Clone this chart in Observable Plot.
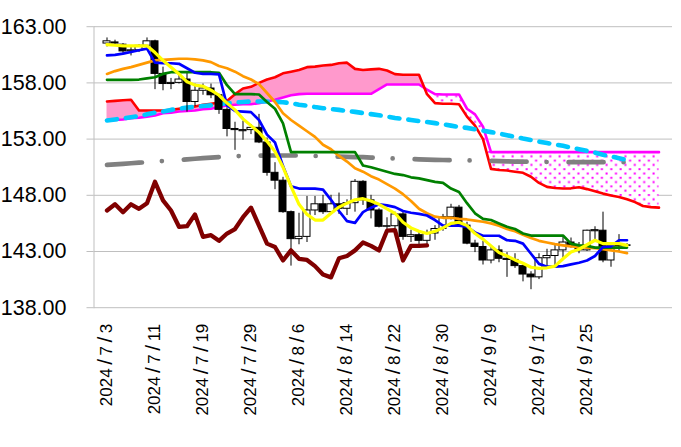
<!DOCTYPE html>
<html><head><meta charset="utf-8">
<script src="https://cdn.jsdelivr.net/npm/d3@7"></script>
<script src="https://cdn.jsdelivr.net/npm/@observablehq/plot@0.6"></script>
<style>body{margin:0;background:#fff;}</style>
</head><body><div id="chart"></div>
<script>
const dates = ["2024/7/3","2024/7/4","2024/7/5","2024/7/8","2024/7/9","2024/7/10","2024/7/11","2024/7/12","2024/7/15","2024/7/16","2024/7/17","2024/7/18","2024/7/19","2024/7/22","2024/7/23","2024/7/24","2024/7/25","2024/7/26","2024/7/29","2024/7/30","2024/7/31","2024/8/1","2024/8/2","2024/8/5","2024/8/6","2024/8/7","2024/8/8","2024/8/9","2024/8/12","2024/8/13","2024/8/14","2024/8/15","2024/8/16","2024/8/19","2024/8/20","2024/8/21","2024/8/22","2024/8/23","2024/8/26","2024/8/27","2024/8/28","2024/8/29","2024/8/30","2024/9/2","2024/9/3","2024/9/4","2024/9/5","2024/9/6","2024/9/9","2024/9/10","2024/9/11","2024/9/12","2024/9/13","2024/9/16","2024/9/17","2024/9/18","2024/9/19","2024/9/20","2024/9/23","2024/9/24","2024/9/25","2024/9/26","2024/9/27","2024/9/30","2024/10/1","2024/10/2"];
const periods = 70; // 66 trading days + 4 forward periods of the cloud
const tickLabels = ["2024/7/3","2024/7/11","2024/7/19","2024/7/29","2024/8/6","2024/8/14","2024/8/22","2024/8/30","2024/9/9","2024/9/17","2024/9/25"];
const yTicks = [138,143,148,153,158,163];

const open = [161.5,161.6,161.4,160.8,160.9,161.3,161.7,158.8,157.9,158.0,
158.3,156.3,157.3,157.5,156.9,155.6,153.9,153.7,153.8,154.0,
152.7,150.0,149.3,146.5,144.1,144.3,146.65,147.2,146.5,147.2,
146.8,147.3,149.2,147.55,146.65,145.2,145.25,146.3,144.3,144.45,
143.95,144.6,145.0,146.05,146.9,145.3,143.7,143.4,142.2,143.1,
142.35,142.25,141.7,140.95,140.7,142.4,142.6,143.1,143.8,143.5,
143.1,144.8,144.85,142.2,143.45,143.5];
const high = [162.0,161.8,161.5,161.2,161.4,162.0,161.8,159.4,158.4,158.9,
158.9,157.9,157.9,157.9,157.0,155.8,154.5,154.6,154.3,155.2,
153.1,150.9,149.6,146.6,146.4,147.9,147.9,148.0,148.0,148.2,
147.6,149.4,149.3,148.0,146.8,146.0,146.5,146.5,144.9,144.8,
144.9,145.3,146.3,147.2,147.1,145.6,144.0,143.9,143.5,143.5,
142.9,142.8,141.8,141.2,142.8,143.2,143.7,144.4,144.2,143.8,
144.9,145.2,146.5,143.8,144.5,143.7];
const low = [161.2,161.3,160.6,160.4,160.7,161.1,157.4,157.3,157.4,157.9,
155.4,155.9,156.9,156.6,155.2,153.2,152.0,152.9,153.4,152.6,
149.7,148.5,146.4,141.7,143.6,143.8,146.2,146.3,146.4,146.3,
146.2,146.5,147.1,145.9,145.1,144.9,145.0,144.0,143.8,143.6,
143.6,144.0,144.8,145.8,145.2,143.6,142.9,141.8,141.9,142.0,
140.7,141.5,140.3,139.6,140.5,141.5,141.7,142.4,143.3,142.8,
143.0,143.9,142.0,141.6,142.9,143.4];
const close = [161.7,161.5,160.8,160.9,161.3,161.7,158.8,157.9,158.0,158.3,
156.3,157.3,157.5,156.9,155.6,153.9,153.8,153.8,154.0,152.7,
150.0,149.3,146.5,144.1,144.3,146.65,147.2,146.5,147.2,146.8,
147.3,149.2,147.55,146.65,145.2,145.25,146.3,144.3,144.45,143.95,
144.6,145.0,146.05,146.9,145.3,143.7,143.4,142.2,143.1,142.35,
142.25,141.7,140.95,140.7,142.4,142.6,143.1,143.8,143.5,143.1,
144.85,144.9,142.2,143.5,143.5,143.55];

// conversion line (blue)
const tenkan = [160.45,160.5,160.6,160.75,160.9,161.05,159.8,159.75,159.75,159.7,
159.3,158.9,158.8,158.8,158.75,156.0,155.5,155.45,155.4,154.7,
153.4,152.7,150.6,148.8,148.6,148.6,148.6,148.5,147.6,146.6,
145.7,145.55,146.5,146.9,147.2,147.1,146.95,146.6,146.45,146.35,
146.2,145.8,145.3,145.3,145.3,145.2,144.7,144.4,144.4,144.4,
144.0,143.95,143.7,142.8,141.9,141.65,141.65,141.7,141.85,142.0,
142.2,142.6,143.4,143.45,144.0,144.0];
// base line (green)
const kijun = [158.27,158.27,158.27,158.27,158.3,158.4,158.5,158.8,158.95,158.95,
158.95,158.95,158.95,158.95,158.9,157.8,157.0,157.0,157.0,156.97,
156.3,155.7,154.4,151.84,151.84,151.84,151.84,151.84,151.84,151.84,
151.84,151.84,150.65,150.5,150.3,150.1,149.9,149.8,149.6,149.5,
149.35,149.2,149.1,148.6,148.3,147.3,146.4,145.9,145.8,145.5,
145.2,145.0,144.6,144.42,144.42,144.42,144.42,144.42,143.7,143.55,
143.5,143.35,143.35,143.35,143.35,143.35];
// short moving average (yellow)
const maShort = [161.4,161.35,161.3,161.3,161.3,161.3,160.7,160.0,159.4,158.8,
158.1,157.8,157.7,157.35,156.9,156.2,155.6,154.8,154.2,153.6,
152.8,151.9,150.5,148.8,147.2,146.3,145.8,145.8,146.4,146.95,
147.3,147.6,147.7,147.5,147.2,146.8,146.4,145.6,145.1,144.8,
144.6,144.8,145.1,145.5,145.6,145.3,144.6,144.1,143.5,142.9,
142.6,142.25,141.95,141.6,141.5,141.55,141.7,142.35,142.95,143.2,
143.6,144.0,143.7,143.7,143.7,143.55];
// medium moving average (orange)
const maMid = [158.8,159.05,159.25,159.4,159.6,159.8,160.0,160.05,160.1,160.15,
160.15,160.1,160.0,159.85,159.5,159.3,159.0,158.6,158.3,157.9,
157.1,156.3,155.3,154.7,154.2,153.7,153.2,152.5,152.1,151.5,
151.0,150.4,150.1,149.7,149.4,149.0,148.6,148.1,147.5,146.8,
146.4,146.1,146.0,146.0,145.9,145.85,145.75,145.65,145.5,145.3,
145.0,144.8,144.5,144.2,143.95,143.8,143.65,143.55,143.45,143.4,
143.35,143.3,143.2,143.1,143.0,142.85];
// long moving average (cyan dashed)
const maLong = [154.65,154.75,154.85,154.95,155.05,155.2,155.35,155.45,155.6,155.7,
155.8,155.87,155.95,156.0,156.1,156.2,156.25,156.3,156.35,156.35,
156.35,156.32,156.28,156.2,156.05,155.97,155.85,155.75,155.68,155.6,
155.5,155.42,155.32,155.22,155.12,155.0,154.88,154.8,154.7,154.6,
154.52,154.42,154.32,154.2,154.08,154.0,153.88,153.75,153.62,153.5,
153.35,153.2,153.05,152.92,152.78,152.65,152.52,152.4,152.25,152.1,
151.95,151.8,151.6,151.45,151.3,151.15];
// longest moving average (grey dash-dot)
const maLongest = [150.7,150.75,150.8,150.85,150.9,150.95,151.0,151.05,151.1,151.15,
151.2,151.25,151.3,151.35,151.4,151.45,151.48,151.5,151.52,151.53,
151.54,151.54,151.54,151.54,151.54,151.54,151.5,151.48,151.46,151.44,
151.42,151.4,151.39,151.36,151.33,151.3,151.27,151.24,151.22,151.2,
151.17,151.15,151.14,151.13,151.12,151.11,151.1,151.08,151.06,151.04,
151.02,151.0,150.99,150.98,150.97,150.96,150.95,150.95,150.95,150.95,
150.95,150.95,150.95,150.95,150.95,150.95];
// leading span 1 (red) and leading span 2 (magenta), 70 periods
const spanA = [156.35,156.4,156.45,156.5,155.55,155.55,155.55,155.55,155.6,155.7,
155.8,155.9,156.05,156.15,156.25,156.4,157.0,157.5,157.65,158.0,
158.3,158.5,158.85,159.0,159.15,159.4,159.45,159.55,159.6,159.75,
159.8,159.25,159.15,159.2,159.25,159.1,158.78,158.72,158.72,158.72,
157.0,156.2,156.14,156.14,156.1,155.0,154.2,153.0,150.35,150.25,
150.2,150.1,150.0,149.65,149.1,148.75,148.65,148.6,148.62,148.72,
148.55,148.35,148.15,147.98,147.85,147.65,147.4,147.05,146.95,146.9];
const spanB = [154.65,154.7,154.75,154.85,154.9,155.0,155.1,155.3,155.35,155.45,
155.5,155.55,155.65,155.7,155.85,156.0,156.05,156.1,156.1,156.2,
156.35,156.5,156.7,156.9,157.0,157.03,157.03,157.03,157.03,157.03,
157.03,157.03,157.03,157.03,157.45,157.86,157.86,157.86,157.86,157.86,
157.4,157.0,156.97,156.97,156.97,155.7,155.2,154.1,151.84,151.84,
151.84,151.84,151.84,151.84,151.84,151.84,151.84,151.84,151.84,151.84,
151.84,151.84,151.84,151.84,151.84,151.84,151.84,151.84,151.84,151.84];
const laggingShift = 25;

const candles = dates.map((d, i) => ({i, d, o: open[i], h: high[i], l: low[i], c: close[i]}));
const series = arr => arr.map((v, i) => ({i, v}));
const cloud = spanA.map((a, i) => ({i, a, b: spanB[i], top: Math.max(a, spanB[i])}));
const lagging = close.slice(laggingShift).map((v, i) => ({i, v}));
const tickIdx = tickLabels.map(t => dates.indexOf(t));

const lineOpts = (stroke, w, extra = {}) => ({x: "i", y: "v", stroke, strokeWidth: w, strokeLinejoin: "round", strokeLinecap: "round", ...extra});

const plot = Plot.plot({
  width: 681, height: 447,
  marginLeft: 93.5, marginRight: 9, marginTop: 26.2, marginBottom: 139.8,
  x: {type: "band", domain: d3.range(periods), paddingInner: 0.15, paddingOuter: 0.075, axis: null},
  y: {domain: [138, 163], axis: null},
  color: {type: "identity"},
  style: {fontFamily: "'Liberation Sans', Arial, sans-serif", background: "#fff", overflow: "visible"},
  marks: [
    Plot.gridY(yTicks, {stroke: "#bfbfbf", strokeOpacity: 1, strokeWidth: 1}),
    Plot.frame({anchor: "left", stroke: "#bfbfbf", strokeWidth: 1}),
    Plot.axisY(yTicks, {tickSize: 7, tickPadding: 20.5, stroke: "#bfbfbf", fill: "#000", fontSize: 21.5, tickFormat: d => d.toFixed(2)}),
    Plot.text(tickIdx, {x: d => d, text: d => dates[d], frameAnchor: "bottom", rotate: -90, textAnchor: "end", lineAnchor: "middle", dy: 16, fontSize: 17, fill: "#000"}),
    // cloud
    Plot.areaY(cloud, {x: "i", y1: "b", y2: "top", fill: "#ff99cc"}),
    Plot.areaY(cloud, {x: "i", y1: "a", y2: "top", fill: "url(#dots)"}),
    Plot.line(cloud, {x: "i", y: "b", stroke: "#ff00ff", strokeWidth: 2.6, strokeLinejoin: "round"}),
    Plot.line(cloud, {x: "i", y: "a", stroke: "#ff0000", strokeWidth: 2.6, strokeLinejoin: "round"}),
    // long averages
    Plot.line(series(maLongest), lineOpts("#808080", 4.7, {strokeDasharray: "35,20,0,22"})),
    Plot.line(series(maLong), lineOpts("#00c8ff", 4.6, {strokeDasharray: "10,9"})),
    // candles
    Plot.ruleX(candles, {x: "i", y1: "l", y2: "h", stroke: "#000", strokeWidth: 1}),
    Plot.barY(candles, {x: "i", y1: "o", y2: "c", fill: d => d.c >= d.o ? "#ffffff" : "#000000", stroke: "#000", strokeWidth: 1}),
    // indicator lines
    Plot.line(series(maMid), lineOpts("#ff9900", 2.7)),
    Plot.line(series(kijun), lineOpts("#008000", 2.7)),
    Plot.line(series(tenkan), lineOpts("#0000ff", 2.7)),
    Plot.line(series(maShort), lineOpts("#ffff00", 3.2)),
    Plot.line(lagging, lineOpts("#800000", 4.3))
  ]
});

const ns = "http://www.w3.org/2000/svg";
const sel = d3.select(plot);
const defs = sel.insert("defs", ":first-child");
const pat = defs.append("pattern").attr("id", "dots").attr("patternUnits", "userSpaceOnUse").attr("width", 9.4).attr("height", 8.6);
pat.append("rect").attr("width", 9.4).attr("height", 8.6).attr("fill", "#ffffff");
pat.append("rect").attr("x", 0.5).attr("y", 0.5).attr("width", 2).attr("height", 2).attr("fill", "#ff00ff");
pat.append("rect").attr("x", 5.2).attr("y", 4.8).attr("width", 2).attr("height", 2).attr("fill", "#ff00ff");

// widen the date separators like the reference
sel.selectAll("text").each(function() {
  const s = this.textContent;
  if (!/^2024\//.test(s)) return;
  this.textContent = "";
  const parts = s.split("/");
  parts.forEach((p, k) => {
    if (k > 0) {
      const sl = document.createElementNS(ns, "tspan");
      sl.setAttribute("dx", "3.5"); sl.setAttribute("font-size", "21");
      sl.textContent = "/"; this.appendChild(sl);
    }
    const t = document.createElementNS(ns, "tspan");
    if (k > 0) t.setAttribute("dx", "3.5");
    t.textContent = p; this.appendChild(t);
  });
});
document.getElementById("chart").appendChild(plot);
</script>
</body></html>
